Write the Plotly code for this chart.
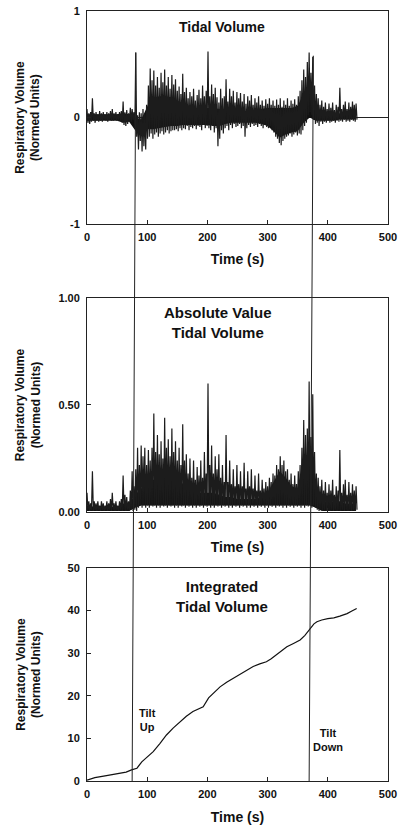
import plotly.graph_objects as go

# ---------------- data ----------------
bin_start_s = [i * 3 for i in range(150)]  # 3-s bins, 0..447 s

# per-bin peak (hi) and trough (lo) of the tidal volume trace
tidal_hi = [0.08,0.04,0.05,0.18,0.04,0.05,0.03,0.06,0.04,0.05,
            0.03,0.05,0.04,0.06,0.08,0.04,0.05,0.03,0.05,0.06,
            0.15,0.05,0.07,0.04,0.09,0.08,0.05,0.61,0.02,0.05,
            0.04,0.08,0.03,0.12,0.30,0.46,0.35,0.44,0.30,0.38,
            0.28,0.42,0.33,0.45,0.30,0.38,0.27,0.40,0.31,0.36,
            0.25,0.29,0.22,0.41,0.24,0.28,0.18,0.24,0.20,0.27,
            0.16,0.21,0.26,0.18,0.30,0.20,0.25,0.62,0.20,0.31,
            0.22,0.28,0.19,0.14,0.27,0.18,0.20,0.36,0.15,0.27,
            0.20,0.25,0.14,0.24,0.18,0.23,0.15,0.22,0.13,0.20,
            0.16,0.21,0.12,0.18,0.14,0.20,0.12,0.16,0.11,0.17,
            0.13,0.18,0.12,0.16,0.11,0.17,0.12,0.18,0.10,0.16,
            0.12,0.18,0.11,0.16,0.13,0.17,0.12,0.20,0.25,0.35,
            0.45,0.38,0.52,0.61,0.42,0.57,0.30,0.22,0.18,0.12,
            0.16,0.10,0.14,0.08,0.13,0.09,0.14,0.07,0.12,0.10,
            0.28,0.08,0.12,0.15,0.08,0.14,0.10,0.15,0.12,0.13]

tidal_lo = [-0.05,-0.06,-0.04,-0.03,-0.05,-0.03,-0.04,-0.03,-0.04,-0.02,
            -0.03,-0.04,-0.02,-0.03,-0.03,-0.02,-0.03,-0.02,-0.03,-0.05,
            -0.07,-0.08,-0.06,-0.03,-0.04,-0.02,-0.10,-0.18,-0.30,-0.22,
            -0.32,-0.27,-0.30,-0.20,-0.18,-0.15,-0.20,-0.16,-0.14,-0.18,
            -0.15,-0.13,-0.16,-0.14,-0.12,-0.15,-0.13,-0.12,-0.12,-0.11,
            -0.13,-0.10,-0.12,-0.10,-0.11,-0.08,-0.12,-0.09,-0.10,-0.08,
            -0.11,-0.08,-0.09,-0.12,-0.07,-0.10,-0.08,-0.10,-0.12,-0.08,
            -0.14,-0.10,-0.27,-0.20,-0.12,-0.15,-0.10,-0.08,-0.12,-0.07,
            -0.10,-0.06,-0.09,-0.08,-0.06,-0.10,-0.08,-0.18,-0.10,-0.07,
            -0.09,-0.06,-0.08,-0.07,-0.09,-0.06,-0.08,-0.10,-0.07,-0.09,
            -0.10,-0.08,-0.12,-0.14,-0.18,-0.20,-0.24,-0.26,-0.22,-0.20,
            -0.18,-0.17,-0.15,-0.18,-0.16,-0.14,-0.17,-0.15,-0.16,-0.12,
            -0.08,-0.05,0.02,0.05,0.02,-0.02,-0.06,-0.05,-0.08,-0.04,
            -0.06,-0.04,-0.05,-0.03,-0.05,-0.04,-0.03,-0.05,-0.03,-0.04,
            -0.03,-0.04,-0.02,-0.04,-0.03,-0.04,-0.02,-0.03,-0.04,-0.02]

# per-bin peak (hi) and trough (lo) of the absolute-value trace
abs_hi = [0.09,0.05,0.04,0.19,0.05,0.04,0.05,0.03,0.05,0.04,
          0.03,0.05,0.04,0.06,0.09,0.04,0.05,0.03,0.05,0.06,
          0.17,0.08,0.07,0.05,0.10,0.19,0.12,0.20,0.30,0.22,
          0.31,0.26,0.30,0.22,0.29,0.24,0.30,0.46,0.28,0.36,
          0.27,0.33,0.25,0.44,0.30,0.34,0.26,0.39,0.28,0.33,
          0.24,0.30,0.22,0.41,0.24,0.27,0.18,0.25,0.16,0.24,
          0.15,0.21,0.17,0.24,0.16,0.28,0.18,0.60,0.22,0.31,
          0.18,0.26,0.20,0.27,0.16,0.22,0.14,0.36,0.14,0.24,
          0.13,0.20,0.12,0.22,0.13,0.19,0.12,0.23,0.11,0.19,
          0.12,0.20,0.11,0.17,0.10,0.18,0.10,0.15,0.11,0.14,
          0.12,0.16,0.14,0.18,0.17,0.22,0.20,0.26,0.22,0.24,
          0.19,0.20,0.15,0.18,0.13,0.17,0.13,0.19,0.22,0.30,
          0.43,0.36,0.39,0.61,0.35,0.55,0.28,0.18,0.16,0.12,
          0.15,0.10,0.14,0.09,0.13,0.10,0.15,0.08,0.12,0.10,
          0.29,0.09,0.13,0.15,0.08,0.14,0.09,0.13,0.10,0.12]

abs_lo = [0.010,0.005,0.010,0.005,0.010,0.005,0.010,0.005,0.010,0.005,
          0.010,0.005,0.010,0.005,0.010,0.005,0.010,0.005,0.010,0.005,
          0.010,0.005,0.010,0.005,0.010,0.005,0.010,0.005,0.020,0.030,
          0.020,0.030,0.020,0.030,0.020,0.030,0.025,0.030,0.020,0.030,
          0.020,0.030,0.025,0.030,0.020,0.030,0.025,0.030,0.020,0.030,
          0.020,0.030,0.025,0.030,0.020,0.030,0.025,0.030,0.020,0.030,
          0.020,0.030,0.025,0.030,0.020,0.030,0.025,0.030,0.020,0.030,
          0.020,0.030,0.025,0.030,0.020,0.030,0.025,0.030,0.020,0.030,
          0.020,0.030,0.025,0.030,0.020,0.030,0.025,0.030,0.020,0.030,
          0.020,0.030,0.025,0.030,0.020,0.030,0.025,0.030,0.020,0.030,
          0.020,0.030,0.025,0.030,0.020,0.030,0.025,0.030,0.020,0.030,
          0.020,0.030,0.025,0.030,0.020,0.030,0.025,0.030,0.020,0.030,
          0.020,0.030,0.025,0.030,0.020,0.030,0.020,0.010,0.005,0.010,
          0.005,0.010,0.005,0.010,0.005,0.010,0.005,0.010,0.005,0.010,
          0.005,0.010,0.005,0.010,0.005,0.010,0.005,0.010,0.005,0.010]

# dense (solid black) core of each noisy trace, every 10 s
core_t = [0,10,20,30,40,50,60,70,80,90,100,110,120,130,140,150,160,170,180,190,
          200,210,220,230,240,250,260,270,280,290,300,310,320,330,340,350,360,370,
          380,390,400,410,420,430,440,447]
tidal_core_hi = [0.03,0.03,0.03,0.03,0.03,0.03,0.04,0.03,0.00,-0.02,
                 0.10,0.18,0.20,0.20,0.19,0.16,0.13,0.11,0.09,0.09,
                 0.09,0.09,0.08,0.07,0.07,0.06,0.06,0.06,0.06,0.08,
                 0.09,0.09,0.09,0.09,0.09,0.11,0.22,0.30,0.09,0.05,
                 0.04,0.04,0.04,0.04,0.04,0.04]
tidal_core_lo = [-0.03,-0.03,-0.03,-0.03,-0.03,-0.03,-0.05,-0.04,-0.12,-0.18,
                 -0.11,-0.11,-0.10,-0.09,-0.08,-0.08,-0.07,-0.07,-0.07,-0.07,
                 -0.07,-0.08,-0.08,-0.06,-0.05,-0.05,-0.05,-0.05,-0.05,-0.06,
                 -0.08,-0.13,-0.19,-0.16,-0.14,-0.13,-0.05,0.00,-0.03,-0.03,
                 -0.03,-0.03,-0.02,-0.02,-0.02,-0.02]
abs_core_hi = [0.030,0.025,0.025,0.020,0.025,0.020,0.040,0.040,0.080,0.110,
               0.130,0.150,0.170,0.180,0.180,0.160,0.130,0.110,0.090,0.090,
               0.090,0.090,0.080,0.070,0.070,0.060,0.060,0.060,0.060,0.070,
               0.090,0.140,0.190,0.160,0.120,0.110,0.230,0.300,0.090,0.050,
               0.050,0.050,0.050,0.040,0.040,0.040]
abs_core_lo = [0.005,0.005,0.005,0.005,0.005,0.005,0.005,0.005,0.020,0.030,
               0.030,0.030,0.030,0.030,0.030,0.030,0.030,0.030,0.030,0.030,
               0.030,0.030,0.030,0.030,0.030,0.030,0.030,0.030,0.030,0.030,
               0.030,0.030,0.030,0.030,0.030,0.030,0.030,0.030,0.020,0.005,
               0.005,0.005,0.005,0.005,0.005,0.005]

integ_t = [0,5,13,30,51,65,74,83,91,100,110,121,132,143,154,165,176,185,193,202,
           211,221,232,243,254,265,276,287,298,306,315,323,332,343,354,362,371,377,
           382,390,400,410,420,432,440,448]
integ_v = [0.2,0.5,0.8,1.2,1.8,2.1,2.6,3.0,4.5,5.6,6.9,8.8,10.8,12.4,13.9,15.2,16.3,
           16.9,17.4,19.5,20.8,22.1,23.2,24.1,25.0,26.1,26.9,27.5,28.0,28.7,29.6,30.5,
           31.5,32.3,33.1,34.2,35.8,36.9,37.4,37.8,38.1,38.3,38.7,39.3,39.9,40.5]

x_ticks = [0, 100, 200, 300, 400, 500]
y1_ticks = [-1, 0, 1]
y1_labels = ["-1", "0", "1"]
y2_ticks = [0, 0.5, 1.0]
y2_labels = ["0.00", "0.50", "1.00"]
y3_ticks = [0, 10, 20, 30, 40, 50]

tilt_up_s = [81, 75]       # top (panel 1) / bottom (panel 3) position of marker line
tilt_down_s = [376, 369]
tilt_top_val = [0.61, 0.58]  # panel-1 value where the marker line starts

# ---------------- helpers ----------------
def zigzag(hi, lo):
    xs, ys = [], []
    for t, h, l in zip(bin_start_s, hi, lo):
        xs += [t, t + 1.5]
        ys += [h, l]
    return xs, ys

def band(t, hi, lo):
    return list(t) + list(t)[::-1], list(hi) + list(lo)[::-1]

FONT = "Liberation Sans, Arial, sans-serif"
DOM1 = [0.7234, 1.0]
DOM2 = [0.3494, 0.6273]
DOM3 = [0.0, 0.2766]
INK = "#111"

fig = go.Figure()
for (axx, axy, chi, clo, hi, lo) in (("x", "y", tidal_core_hi, tidal_core_lo, tidal_hi, tidal_lo),
                                     ("x2", "y2", abs_core_hi, abs_core_lo, abs_hi, abs_lo)):
    bx, by = band(core_t, chi, clo)
    fig.add_trace(go.Scatter(x=bx, y=by, mode="lines", fill="toself", fillcolor=INK,
                             line=dict(width=0, color=INK), xaxis=axx, yaxis=axy,
                             hoverinfo="skip"))
    zx, zy = zigzag(hi, lo)
    fig.add_trace(go.Scatter(x=zx, y=zy, mode="lines", line=dict(color="#1c1c1c", width=1.2),
                             xaxis=axx, yaxis=axy, hoverinfo="skip"))
fig.add_trace(go.Scatter(x=integ_t, y=integ_v, mode="lines", line=dict(color=INK, width=1.2),
                         xaxis="x3", yaxis="y3", hoverinfo="skip"))

def xax(anchor):
    return dict(domain=[0, 1], range=[0, 500], anchor=anchor, tickvals=x_ticks,
                ticks="inside", ticklen=4, tickcolor="#222", automargin=False,
                showline=True, mirror=True, linecolor="#222", linewidth=1,
                showgrid=False, zeroline=False,
                tickfont=dict(family=FONT, size=11, color=INK, weight="bold"),
                ticklabelstandoff=3,
                title=dict(text="Time (s)", standoff=12,
                           font=dict(family=FONT, size=14, color=INK, weight="bold")))

def yax(anchor, dom, rng, tv, tt, zl=False):
    return dict(domain=dom, range=rng, anchor=anchor, tickvals=tv, ticktext=tt,
                ticks="inside", ticklen=4, tickcolor="#222", automargin=False,
                showline=True, mirror=True, linecolor="#222", linewidth=1,
                showgrid=False, zeroline=zl, zerolinecolor="#222", zerolinewidth=1,
                tickfont=dict(family=FONT, size=11, color=INK, weight="bold"),
                ticklabelstandoff=4)

def to_paper(v, lo, hi, dom):
    return dom[0] + (v - lo) / (hi - lo) * (dom[1] - dom[0])

shapes = []
for xs, vtop in ((tilt_up_s, tilt_top_val[0]), (tilt_down_s, tilt_top_val[1])):
    shapes.append(dict(type="line", xref="x", yref="paper",
                       x0=xs[0], y0=to_paper(vtop, -1, 1, DOM1), x1=xs[1], y1=0,
                       line=dict(color="#222", width=1)))

def bold(s):
    return dict(family=FONT, size=s, color=INK, weight="bold")

ann = [
    dict(text="Tidal Volume", xref="x", yref="y", x=224, y=0.85, showarrow=False, font=bold(14)),
    dict(text="Absolute Value<br>Tidal Volume", xref="x2", yref="y2", x=217, y=0.885,
         showarrow=False, font=bold(15)),
    dict(text="Integrated<br>Tidal Volume", xref="x3", yref="y3", x=224, y=43.4,
         showarrow=False, font=bold(15)),
    dict(text="Tilt<br>Up", xref="x3", yref="y3", x=100, y=14.3, showarrow=False, font=bold(11)),
    dict(text="Tilt<br>Down", xref="x3", yref="y3", x=400, y=9.6, showarrow=False, font=bold(11)),
]
for dom in (DOM1, DOM2, DOM3):
    ann.append(dict(text="Respiratory Volume<br>(Normed Units)", xref="paper", yref="paper",
                    x=-0.195, y=(dom[0] + dom[1]) / 2, xanchor="center", yanchor="middle",
                    textangle=-90, showarrow=False, font=bold(12)))

fig.update_layout(
    width=398, height=827,
    margin=dict(l=87, r=10, t=11, b=46, autoexpand=False),
    paper_bgcolor="white", plot_bgcolor="white",
    showlegend=False,
    xaxis=xax("y"), xaxis2=xax("y2"), xaxis3=xax("y3"),
    yaxis=yax("x", DOM1, [-1, 1], y1_ticks, y1_labels, zl=True),
    yaxis2=yax("x2", DOM2, [0, 1], y2_ticks, y2_labels),
    yaxis3=yax("x3", DOM3, [0, 50], y3_ticks, [str(v) for v in y3_ticks]),
    shapes=shapes, annotations=ann,
)

fig.write_html("out.html")
